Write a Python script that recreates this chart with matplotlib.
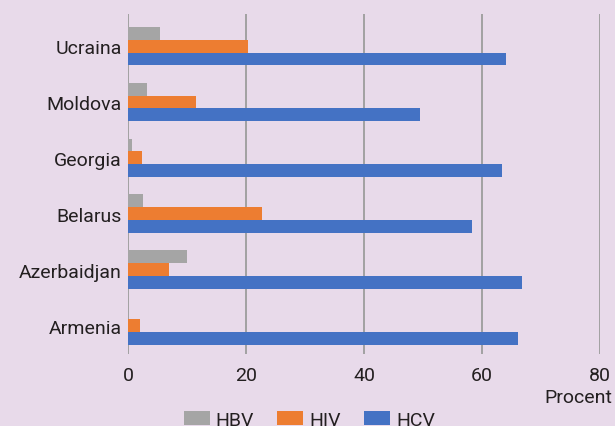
import matplotlib
matplotlib.use("Agg")
import matplotlib.pyplot as plt
import numpy as np

# data (bottom to top)
countries = ["Armenia", "Azerbaidjan", "Belarus", "Georgia", "Moldova", "Ucraina"]
hbv = [0.0, 10.0, 2.6, 0.6, 3.2, 5.4]
hiv = [2.0, 6.9, 22.7, 2.4, 11.5, 20.3]
hcv = [66.1, 66.8, 58.3, 63.4, 49.5, 64.0]
xticks = [0, 20, 40, 60, 80]

bg = "#e8daea"
text_col = "#231f20"
colors = {"HBV": "#a5a5a5", "HIV": "#ed7d31", "HCV": "#4472c4"}

plt.rcParams["font.family"] = ["Roboto", "DejaVu Sans"]
plt.rcParams["font.size"] = 14

fig = plt.figure(figsize=(6.15, 4.27), dpi=100, facecolor=bg)
ax = fig.add_axes([128 / 615, 1 - 355 / 427, 472 / 615, 340.3 / 427])
ax.set_facecolor(bg)

y = np.arange(len(countries))
h = 0.23
ax.barh(y + h, hbv, height=h, color=colors["HBV"], label="HBV", zorder=3)
ax.barh(y, hiv, height=h, color=colors["HIV"], label="HIV", zorder=3)
ax.barh(y - h, hcv, height=h, color=colors["HCV"], label="HCV", zorder=3)

ax.set_xlim(0, 80)
ax.set_ylim(-0.51, 5.58)
ax.set_xticks(xticks)
ax.set_xticklabels([str(t) for t in xticks], color=text_col)
ax.set_yticks(y)
ax.set_yticklabels(countries, color=text_col)
ax.tick_params(axis="x", length=0, pad=8.5)
ax.tick_params(axis="y", length=0, pad=4.3)
ax.grid(axis="x", color="#9c9c9c", linewidth=1.3, zorder=0)
for s in ax.spines.values():
    s.set_visible(False)

fig.text(612 / 615, 1 - 398 / 427, "Procent", ha="right", va="center",
         color=text_col, fontsize=14)

# legend sits at the very bottom edge, partly cut off as in the original
fig.legend(loc="center", bbox_to_anchor=(0.503, 1 - 421 / 427), ncol=3,
           frameon=False, handlelength=1.34, handleheight=0.7,
           handletextpad=0.3, columnspacing=1.2, fontsize=14,
           labelcolor=text_col, borderaxespad=0, borderpad=0)

fig.savefig("out.png", dpi=100, facecolor=bg)
